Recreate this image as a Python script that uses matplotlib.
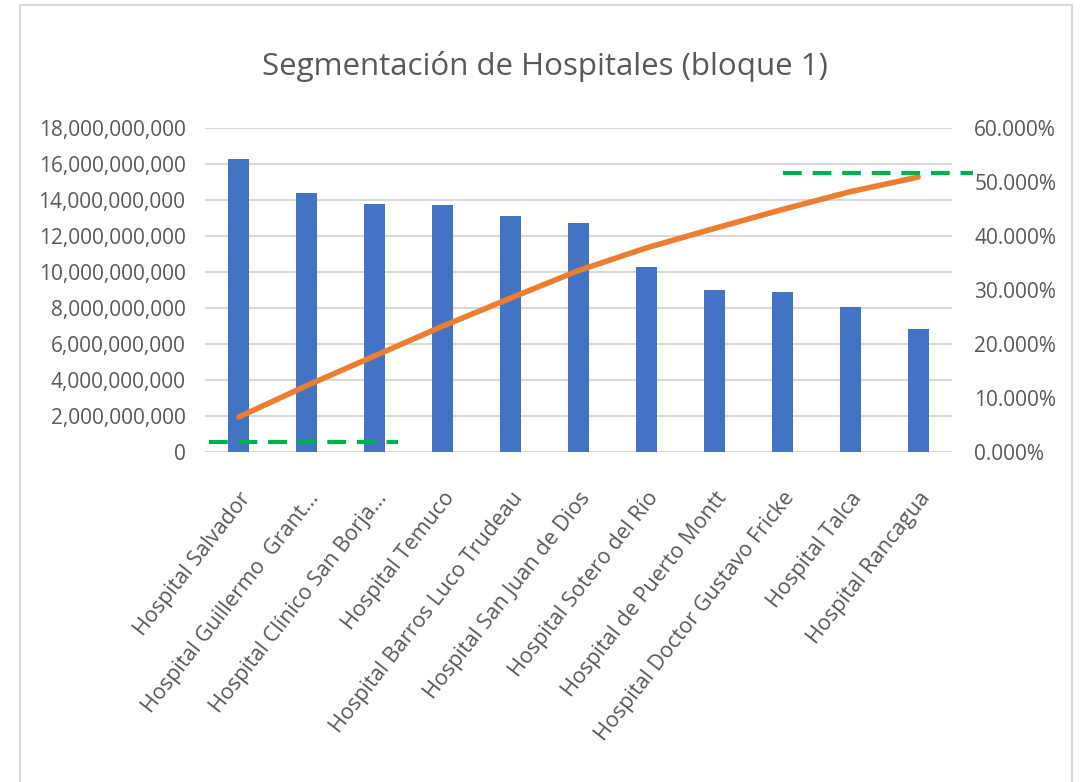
import matplotlib
matplotlib.use("Agg")
import matplotlib.pyplot as plt
from matplotlib.patches import Rectangle
from matplotlib.ticker import FuncFormatter, MultipleLocator

plt.rcParams['font.family'] = ['Open Sans', 'DejaVu Sans']

# Data
hospitales = [
    "Hospital Salvador",
    "Hospital Guillermo  Grant...",
    "Hospital Clínico San Borja...",
    "Hospital Temuco",
    "Hospital Barros Luco Trudeau",
    "Hospital San Juan de Dios",
    "Hospital Sotero del Río",
    "Hospital de Puerto Montt",
    "Hospital Doctor Gustavo Fricke",
    "Hospital Talca",
    "Hospital Rancagua",
]
montos = [16.26e9, 14.40e9, 13.78e9, 13.70e9, 13.10e9, 12.70e9,
          10.30e9, 9.00e9, 8.90e9, 8.04e9, 6.85e9]
acumulado = [6.5, 12.3, 17.8, 23.3, 28.5, 33.6, 37.8, 41.4, 44.9, 48.2, 50.9]
umbral_bajo = 1.9    # % (green dashed, lower left)
umbral_alto = 51.7   # % (green dashed, upper right)

BLUE = "#4472C4"
ORANGE = "#ED7D31"
GREEN = "#00B050"
GRID = "#D9D9D9"
TEXT = "#595959"

fig = plt.figure(figsize=(10.81, 7.82), dpi=100)
fig.patch.set_facecolor("white")

# chart frame like the Excel chart area
fig.patches.append(Rectangle((20 / 1081, -0.02), (1072 - 20) / 1081, 1.02 - 5 / 782,
                             transform=fig.transFigure, fill=False,
                             edgecolor=GRID, linewidth=1.5, zorder=0))

ax = fig.add_axes([205 / 1081, 1 - 452 / 782, (952 - 205) / 1081, (452 - 128) / 782])
ax2 = ax.twinx()

x = list(range(len(hospitales)))
ax.bar(x, montos, width=0.31, color=BLUE, zorder=2)

ax.set_xlim(-0.5, len(hospitales) - 0.5)
ax.set_ylim(0, 18e9)
ax.yaxis.set_major_locator(MultipleLocator(2e9))
ax.yaxis.set_major_formatter(FuncFormatter(lambda v, p: f"{v:,.0f}"))
ax.grid(axis="y", color=GRID, linewidth=1.5, zorder=0)
ax.set_axisbelow(True)

for a in (ax, ax2):
    for s in ("left", "right", "top", "bottom"):
        a.spines[s].set_visible(False)
    a.tick_params(length=0, colors=TEXT, labelsize=15)

ax.tick_params(axis="y", pad=14)
ax.set_xticks(x)
ax.set_xticklabels(hospitales, rotation=52, ha="right", rotation_mode="anchor",
                   fontsize=15.5, color=TEXT)
ax.tick_params(axis="x", pad=26)

ax2.set_ylim(0, 60)
ax2.yaxis.set_major_locator(MultipleLocator(10))
ax2.yaxis.set_major_formatter(FuncFormatter(lambda v, p: f"{v:.3f}%"))
ax2.tick_params(axis="y", pad=16)

ax2.plot(x, acumulado, color=ORANGE, linewidth=4, solid_capstyle="round", zorder=3)

# green dashed threshold markers
ax2.plot([-0.44, 2.34], [umbral_bajo, umbral_bajo], color=GREEN, linewidth=3,
         linestyle=(0, (4.5, 2.6)), clip_on=False, zorder=4)
ax2.plot([8.01, 10.81], [umbral_alto, umbral_alto], color=GREEN, linewidth=3,
         linestyle=(0, (4.5, 2.6)), clip_on=False, zorder=4)

fig.text(0.504, 1 - 66 / 782, "Segmentación de Hospitales (bloque 1)",
         ha="center", va="center", fontsize=22.5, color=TEXT)

fig.savefig("out.png", dpi=100)
